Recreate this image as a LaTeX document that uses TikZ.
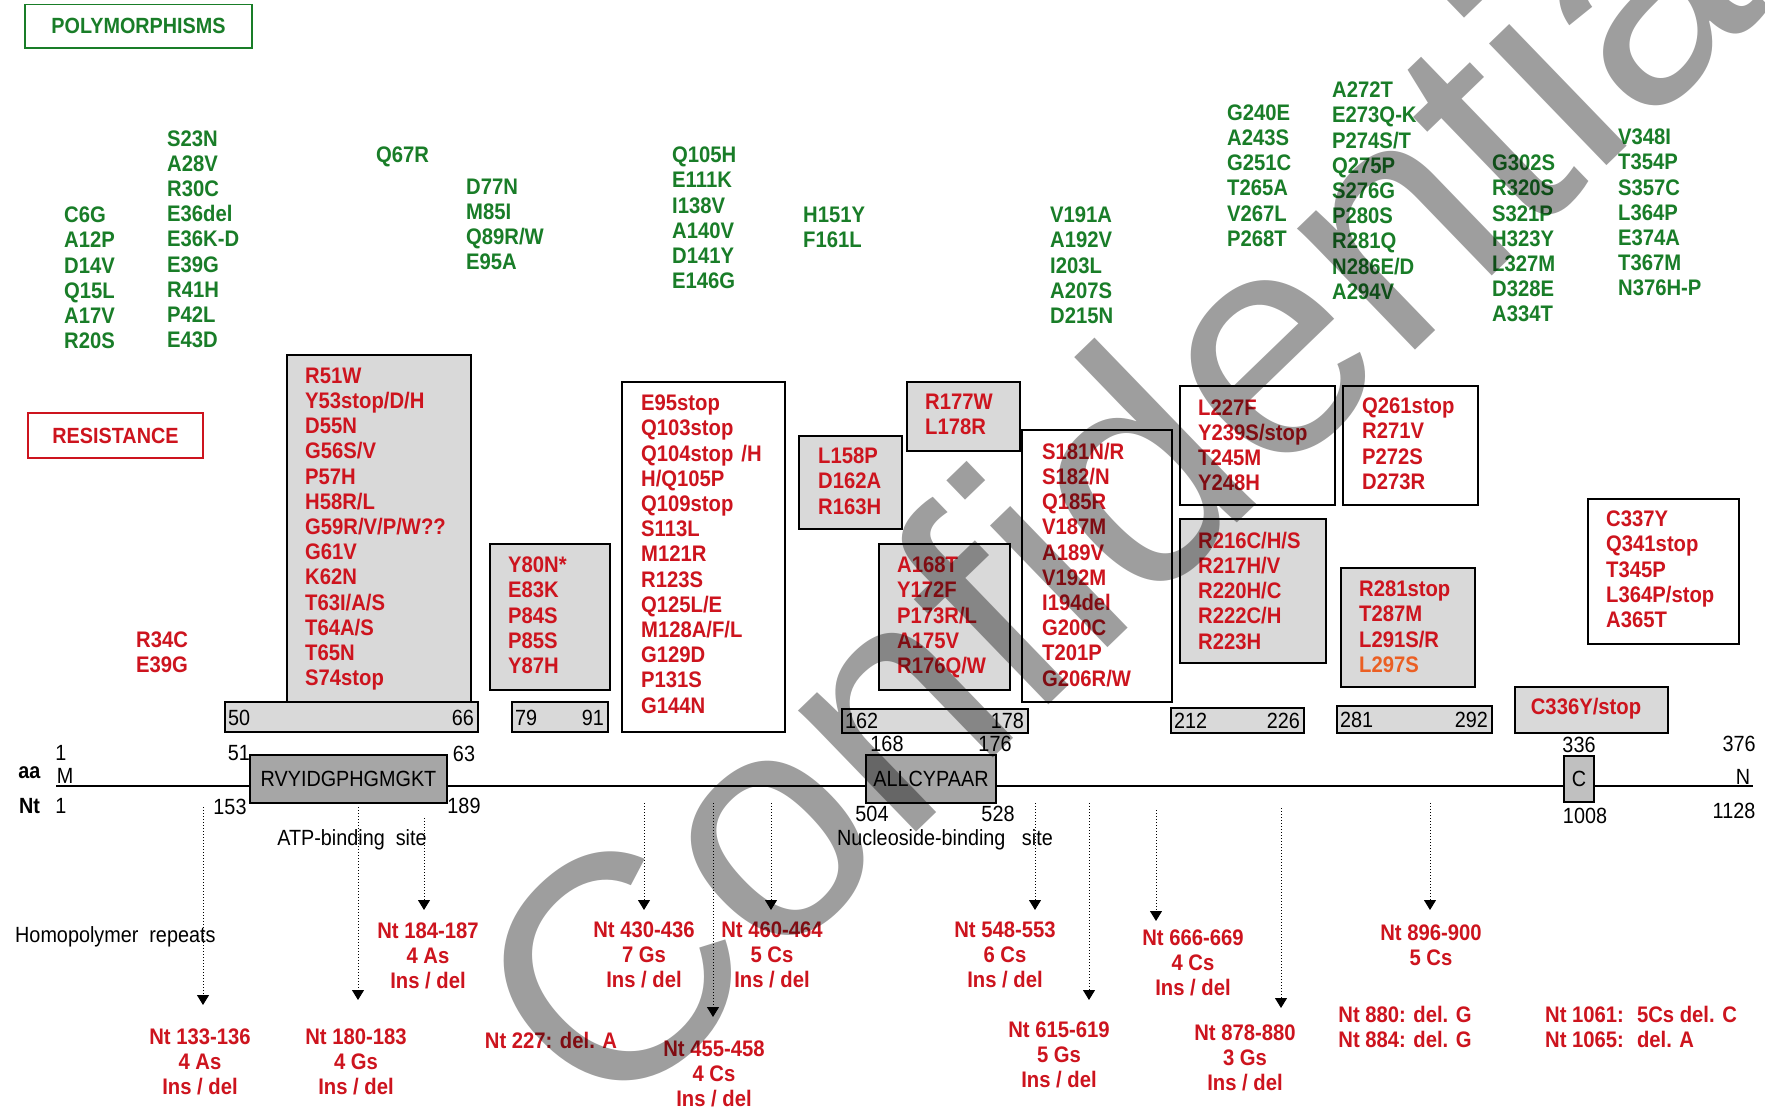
\documentclass[tikz,border=0pt]{standalone}
\usepackage{fontspec}
\setmainfont{Liberation Sans}
\newfontfamily\nf[FakeStretch=0.9]{Liberation Sans}
\usetikzlibrary{arrows.meta,fit}
\definecolor{grn}{RGB}{25,125,40}
\definecolor{rd}{RGB}{205,20,30}
\definecolor{org}{RGB}{235,95,35}
\definecolor{lg}{RGB}{217,217,217}
\definecolor{dg}{RGB}{166,166,166}
\definecolor{cg}{RGB}{192,192,192}
\tikzset{
  mut/.style={inner sep=0pt, anchor=north west, align=left, font=\nf\bfseries\fontsize{22.5}{25.2}\selectfont},
  gm/.style={mut, text=grn},
  rm/.style={mut, text=rd},
  rc/.style={inner sep=0pt, anchor=north, align=center, text=rd, font=\nf\bfseries\fontsize{22.5}{25}\selectfont},
  lbl/.style={inner sep=0pt, font=\nf\fontsize{22}{24}\selectfont},
  bl/.style={inner sep=0pt, font=\nf\bfseries\fontsize{22}{24}\selectfont},
  box/.style={draw=black, line width=1.4pt, inner sep=0pt},
  gbox/.style={box, fill=lg},
  wbox/.style={box, fill=white},
  dbox/.style={box, fill=dg},
  dotarrow/.style={dotted, line width=1pt, -{Triangle[width=12pt,length=10pt]}},
  axisline/.style={line width=1.4pt},
  wm/.style={inner sep=0pt, text=black, text opacity=0.38, font=\fontsize{320}{320}\selectfont}
}
\begin{document}
\begin{tikzpicture}[x=1pt,y=-1pt]
\useasboundingbox (0,0) rectangle (1765,1110);
\fill[white] (0,0) rectangle (1765,1110);

% headers
\node[draw=grn, line width=1.2pt, text=grn, font=\nf\bfseries\fontsize{22}{25}\selectfont, minimum width=227pt, minimum height=43.5pt] (poly) at (138.5,26.25) {POLYMORPHISMS};
\node[draw=rd, line width=1.2pt, text=rd, font=\nf\bfseries\fontsize{22}{25}\selectfont, minimum width=175pt, minimum height=45pt] (resist) at (115.5,435.5) {RESISTANCE};

% polymorphisms
\node[gm] (g1) at (64,206.7) {C6G\\A12P\\D14V\\Q15L\\A17V\\R20S};
\node[gm] (g2) at (167,130.2) {S23N\\A28V\\R30C\\E36del\\E36K-D\\E39G\\R41H\\P42L\\E43D};
\node[gm] (g3) at (376,146.7) {Q67R};
\node[gm] (g4) at (466,178.7) {D77N\\M85I\\Q89R/W\\E95A};
\node[gm] (g5) at (672,146.7) {Q105H\\E111K\\I138V\\A140V\\D141Y\\E146G};
\node[gm] (g6) at (803,206.7) {H151Y\\F161L};
\node[gm] (g7) at (1050,206.7) {V191A\\A192V\\I203L\\A207S\\D215N};
\node[gm] (g8) at (1227,104.3) {G240E\\A243S\\G251C\\T265A\\V267L\\P268T};
\node[gm] (g9) at (1332,81.7) {A272T\\E273Q-K\\P274S/T\\Q275P\\S276G\\P280S\\R281Q\\N286E/D\\A294V};
\node[gm] (g10) at (1492,154.7) {G302S\\R320S\\S321P\\H323Y\\L327M\\D328E\\A334T};
\node[gm] (g11) at (1618,128.7) {V348I\\T354P\\S357C\\L364P\\E374A\\T367M\\N376H-P};

% resistance boxes
\node[gbox, fit={(287,355) (471,702)}] (b1) {};
\node[gbox, fit={(225,702) (478,732)}] (b2) {};
\node[gbox, fit={(512,702) (608,732)}] (b3) {};
\node[gbox, fit={(490,544) (610,690)}] (b4) {};
\node[wbox, fit={(622,382) (785,732)}] (b5) {};
\node[gbox, fit={(799,436) (902,529)}] (b6) {};
\node[gbox, fit={(907,382) (1020,451)}] (b7) {};
\node[gbox, fit={(879,544) (1010,690)}] (b8) {};
\node[gbox, fit={(842,709) (1028,733)}] (b9) {};
\node[wbox, fit={(1022,430) (1172,702)}] (b10) {};
\node[wbox, fit={(1180,386) (1335,505)}] (b11) {};
\node[wbox, fit={(1343,386) (1478,505)}] (b12) {};
\node[gbox, fit={(1180,519) (1326,663)}] (b13) {};
\node[gbox, fit={(1341,568) (1475,687)}] (b14) {};
\node[gbox, fit={(1171,708) (1304,733)}] (b15) {};
\node[gbox, fit={(1337,706) (1492,733)}] (b16) {};
\node[gbox, fit={(1515,687) (1668,733)}] (b17) {};
\node[wbox, fit={(1588,499) (1739,644)}] (b18) {};

% resistance mutations
\node[rm] (r1) at (305,367.7) {R51W\\Y53stop/D/H\\D55N\\G56S/V\\P57H\\H58R/L\\G59R/V/P/W??\\G61V\\K62N\\T63I/A/S\\T64A/S\\T65N\\S74stop};
\node[rm] (r2) at (508,556.7) {Y80N*\\E83K\\P84S\\P85S\\Y87H};
\node[rm] (r3) at (136,631.7) {R34C\\E39G};
\node[rm] (r4) at (641,394.7) {E95stop\\Q103stop\\Q104stop\hspace{8pt}/H\\H/Q105P\\Q109stop\\S113L\\M121R\\R123S\\Q125L/E\\M128A/F/L\\G129D\\P131S\\G144N};
\node[rm] (r5) at (818,447.7) {L158P\\D162A\\R163H};
\node[rm] (r6) at (925,393.7) {R177W\\L178R};
\node[rm] (r7) at (897,556.7) {A168T\\Y172F\\P173R/L\\A175V\\R176Q/W};
\node[rm] (r8) at (1042,442.7) {S181N/R\\S182/N\\Q185R\\V187M\\A189V\\V192M\\I194del\\G200C\\T201P\\G206R/W};
\node[rm] (r9) at (1198,399.2) {L227F\\Y239S/stop\\T245M\\Y248H};
\node[rm] (r10) at (1362,397.7) {Q261stop\\R271V\\P272S\\D273R};
\node[rm] (r11) at (1198,531.7) {R216C/H/S\\R217H/V\\R220H/C\\R222C/H\\R223H};
\node[rm] (r12) at (1359,580.7) {R281stop\\T287M\\L291S/R\\\textcolor{org}{L297S}};
\node[rm] (r13) at (1606,510.7) {C337Y\\Q341stop\\T345P\\L364P/stop\\A365T};
\node[rm, anchor=center] (r14) at (1586,709) {C336Y/stop};

% range numbers
\node[lbl, anchor=west] (n50) at (228,718) {50};
\node[lbl, anchor=east] (n66) at (474,718) {66};
\node[lbl, anchor=west] (n79) at (515,718) {79};
\node[lbl, anchor=east] (n91) at (604,718) {91};
\node[lbl, anchor=west] (n162) at (845,721) {162};
\node[lbl, anchor=east] (n178) at (1024,721) {178};
\node[lbl, anchor=west] (n212) at (1174,721) {212};
\node[lbl, anchor=east] (n226) at (1300,721) {226};
\node[lbl, anchor=west] (n281) at (1340,720) {281};
\node[lbl, anchor=east] (n292) at (1488,720) {292};

% axis
\coordinate (axL) at (56,786);
\coordinate (axR) at (1753,786);
\draw[axisline] (axL) -- (axR);
\node[dbox, fit={(250,755) (447,803)}] (atp) {};
\node[lbl] (atpt) at (atp.center) {RVYIDGPHGMGKT};
\node[dbox, fit={(866,755) (996,803)}] (nuc) {};
\node[lbl] (nuct) at (nuc.center) {ALLCYPAAR};
\node[box, fill=cg, fit={(1564,756) (1594,802)}] (cb) {};
\node[lbl] (cbt) at (cb.center) {C};

\node[bl] (aa) at (29.5,773) {aa};
\node[bl] (nt) at (29.5,806) {Nt};
\node[lbl] (a1) at (61,753) {1};
\node[lbl] (aM) at (65,776) {M};
\node[lbl] (nt1) at (61,806) {1};
\node[lbl] (a51) at (239,753) {51};
\node[lbl] (a63) at (464,754) {63};
\node[lbl] (n153) at (230,807) {153};
\node[lbl] (n189) at (464,806) {189};
\node[lbl] (atpl) at (352,840) {ATP-binding~ site};
\node[lbl] (a168) at (887,744) {168};
\node[lbl] (a176) at (995,744) {176};
\node[lbl] (n504) at (872,814) {504};
\node[lbl] (n528) at (998,814) {528};
\node[lbl] (nucl) at (945,840) {Nucleoside-binding~~ site};
\node[lbl] (a336) at (1579,745) {336};
\node[lbl] (n1008) at (1585,816) {1008};
\node[lbl] (a376) at (1739,744) {376};
\node[lbl] (aN) at (1743,777) {N};
\node[lbl] (n1128) at (1734,811) {1128};

% homopolymer repeats
\node[lbl, anchor=west] (homo) at (15,937) {Homopolymer~ repeats};
\node[rc] (t1) at (200,1028.7) {Nt 133-136\\4 As\\Ins / del};
\node[rc] (t2) at (356,1028.7) {Nt 180-183\\4 Gs\\Ins / del};
\node[rc] (t3) at (428,922.7) {Nt 184-187\\4 As\\Ins / del};
\node[rc] (t4) at (644,921.7) {Nt 430-436\\7 Gs\\Ins / del};
\node[rc] (t5) at (772,921.7) {Nt 460-464\\5 Cs\\Ins / del};
\node[rc] (t6) at (714,1040.7) {Nt 455-458\\4 Cs\\Ins / del};
\node[rc] (t7) at (551,1031.7) {Nt 227: del. A};
\node[rc] (t8) at (1005,921.7) {Nt 548-553\\6 Cs\\Ins / del};
\node[rc] (t9) at (1059,1021.7) {Nt 615-619\\5 Gs\\Ins / del};
\node[rc] (t10) at (1193,929.7) {Nt 666-669\\4 Cs\\Ins / del};
\node[rc] (t11) at (1245,1024.7) {Nt 878-880\\3 Gs\\Ins / del};
\node[rc] (t12) at (1431,924.7) {Nt 896-900\\5 Cs};
\node[rc] (t13) at (1405,1005.7) {Nt 880: del. G\\Nt 884: del. G};
\node[rc, anchor=north west, align=left] (t14) at (1545,1005.7) {Nt 1061:~ 5Cs del. C\\Nt 1065:~ del. A};

% arrows
\foreach \i/\x/\ys/\ye in {1/203/807/1005, 2/358/807/1000, 3/424/818/910, 4/644/803/910, 5/713/803/1017, 6/771/803/910, 7/1035/803/910, 8/1089/803/1000, 9/1156/810/921, 10/1281/808/1008, 11/1430/803/910}{
  \coordinate (s\i) at (\x,\ys);
  \coordinate (e\i) at (\x,\ye);
  \draw[dotarrow] (s\i) -- (e\i);
}

% watermark
\node[wm, rotate=44, anchor=base west] (wmark) at (606,1132) {Confidential};
\end{tikzpicture}
\end{document}
